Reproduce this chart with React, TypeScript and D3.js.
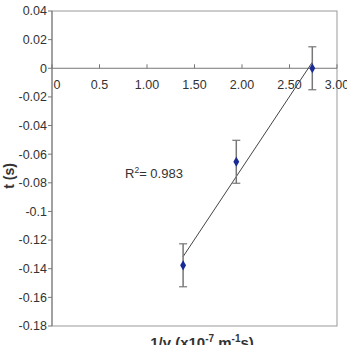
import React, { useRef, useEffect } from "react";
import * as d3 from "d3";

const xs = [1.38, 1.94, 2.74];
const ts = [-0.1376, -0.0653, 0];
const errs = [0.015, 0.015, 0.015];
const xTicks = [0, 0.5, 1.0, 1.5, 2.0, 2.5, 3.0];
const xTickLabels = ["0", "0.5", "1.00", "1.50", "2.00", "2.50", "3.00"];
const yTicks = [0.04, 0.02, 0, -0.02, -0.04, -0.06, -0.08, -0.1, -0.12, -0.14, -0.16, -0.18];
const yTickLabels = ["0.04", "0.02", "0", "-0.02", "-0.04", "-0.06", "-0.08", "-0.1", "-0.12", "-0.14", "-0.16", "-0.18"];

export default function App() {
  const ref = useRef<SVGSVGElement>(null);

  useEffect(() => {
    const svg = d3.select(ref.current);
    svg.selectAll("*").remove();
    const font = "Arial, 'Liberation Sans', sans-serif";

    const x = d3.scaleLinear().domain([0, 3]).range([52, 337]);
    const y = d3.scaleLinear().domain([-0.18, 0.04]).range([326, 11]);

    // plot box
    svg.append("rect")
      .attr("x", x(0)).attr("y", y(0.04))
      .attr("width", x(3) - x(0)).attr("height", y(-0.18) - y(0.04))
      .attr("fill", "white").attr("stroke", "#999").attr("stroke-width", 1);

    // y axis
    const yAxis = svg.append("g");
    yAxis.append("line")
      .attr("x1", x(0)).attr("x2", x(0)).attr("y1", y(0.04)).attr("y2", y(-0.18))
      .attr("stroke", "#777");
    yTicks.forEach((v, i) => {
      yAxis.append("line")
        .attr("x1", x(0) - 4).attr("x2", x(0)).attr("y1", y(v)).attr("y2", y(v))
        .attr("stroke", "#777");
      yAxis.append("text")
        .attr("x", x(0) - 5).attr("y", y(v)).attr("dy", "0.35em")
        .attr("text-anchor", "end").attr("font-family", font).attr("font-size", 12.5)
        .attr("fill", "#333").text(yTickLabels[i]);
    });

    // x axis at t = 0
    const xAxis = svg.append("g");
    xAxis.append("line")
      .attr("x1", x(0)).attr("x2", x(3)).attr("y1", y(0)).attr("y2", y(0))
      .attr("stroke", "#777");
    xTicks.forEach((v, i) => {
      xAxis.append("line")
        .attr("x1", x(v)).attr("x2", x(v)).attr("y1", y(0) - 4).attr("y2", y(0))
        .attr("stroke", "#777");
      xAxis.append("text")
        .attr("x", i === 0 ? x(v) + 5 : x(v)).attr("y", y(0) + 21)
        .attr("text-anchor", "middle").attr("font-family", font).attr("font-size", 12.5)
        .attr("fill", "#333").text(xTickLabels[i]);
    });

    // trendline (least squares)
    const mx = d3.mean(xs)!;
    const my = d3.mean(ts)!;
    const sxy = d3.sum(xs, (v, i) => (v - mx) * (ts[i] - my));
    const sxx = d3.sum(xs, (v) => (v - mx) * (v - mx));
    const slope = sxy / sxx;
    const icpt = my - slope * mx;
    const [x0, x1] = d3.extent(xs) as [number, number];
    svg.append("line")
      .attr("x1", x(x0)).attr("y1", y(slope * x0 + icpt))
      .attr("x2", x(x1)).attr("y2", y(slope * x1 + icpt))
      .attr("stroke", "#444").attr("stroke-width", 1);

    // error bars
    const eb = svg.append("g").attr("stroke", "#777").attr("stroke-width", 1.5);
    xs.forEach((v, i) => {
      eb.append("line")
        .attr("x1", x(v)).attr("x2", x(v))
        .attr("y1", y(ts[i] + errs[i])).attr("y2", y(ts[i] - errs[i]));
      [ts[i] + errs[i], ts[i] - errs[i]].forEach((e) => {
        eb.append("line")
          .attr("x1", x(v) - 4).attr("x2", x(v) + 4)
          .attr("y1", y(e)).attr("y2", y(e)).attr("stroke-width", 1.2);
      });
    });

    // markers
    const diamond = d3.symbol().type(d3.symbolDiamond).size(30);
    svg.append("g").selectAll("path")
      .data(xs)
      .join("path")
      .attr("d", diamond)
      .attr("transform", (d, i) => `translate(${x(d)},${y(ts[i])})`)
      .attr("fill", "#1a2a94");

    // R² label
    const r = svg.append("text")
      .attr("x", 125).attr("y", 178)
      .attr("font-family", font).attr("font-size", 13).attr("fill", "#333");
    r.append("tspan").text("R");
    r.append("tspan").attr("font-size", 8.5).attr("dy", -5).text("2");
    r.append("tspan").attr("dy", 5).text("= 0.983");

    // axis titles
    svg.append("text")
      .attr("transform", "translate(14,176) rotate(-90)")
      .attr("text-anchor", "middle").attr("font-family", font)
      .attr("font-size", 14).attr("font-weight", "bold").attr("fill", "#333")
      .text("t (s)");

    const xl = svg.append("text")
      .attr("x", 202).attr("y", 348)
      .attr("text-anchor", "middle").attr("font-family", font)
      .attr("font-size", 15).attr("font-weight", "bold").attr("fill", "#333");
    xl.append("tspan").text("1/v (x10");
    xl.append("tspan").attr("font-size", 10).attr("dy", -6).text("-7");
    xl.append("tspan").attr("dy", 6).text(" m");
    xl.append("tspan").attr("font-size", 10).attr("dy", -6).text("-1");
    xl.append("tspan").attr("dy", 6).text("s)");
  }, []);

  return (
    <svg
      ref={ref}
      width={347}
      height={345}
      style={{ position: "absolute", left: 0, top: 0, background: "white" }}
    ></svg>
  );
}
